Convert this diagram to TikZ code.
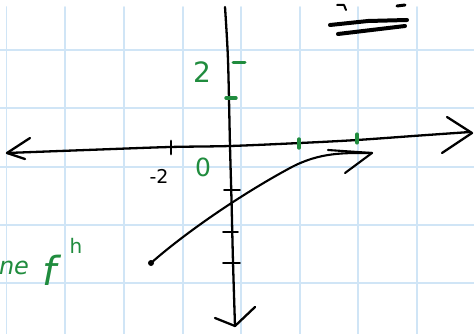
\documentclass[tikz,border=0pt]{standalone}
\usepackage{fontspec}
\setmainfont{DejaVu Sans}
\definecolor{gridblue}{RGB}{208,229,246}
\definecolor{pen}{RGB}{32,140,62}
\begin{document}
\begin{tikzpicture}[x=1pt,y=-1pt,line cap=round,line join=round,
  ax/.style={black,line width=2.3pt},
  gtick/.style={pen,line width=3.4pt},
  btick/.style={black,line width=1.7pt},
  glabel/.style={text=pen,inner sep=0pt},
  gridline/.style={gridblue,line width=1.6pt}]
\useasboundingbox (0,0) rectangle (474,334);
\fill[white] (0,0) rectangle (474,334);
% grid
\foreach \x in {6.5,65,124,183,241,300,358,417} \draw[gridline] (\x,7) -- (\x,334);
\foreach \y in {50,108,167,225,283} \draw[gridline] (0,\y) -- (474,\y);
% x axis
\draw[ax] plot[smooth] coordinates {(7,153) (100,149.5) (170,147) (230,146) (300,143) (357,140) (420,135.5) (470,132)};
\draw[ax] (30,138) -- (7,153) -- (25,159);
\draw[ax] (447,117) -- (472,133) -- (442,153);
% y axis
\draw[ax] plot[smooth] coordinates {(225,7) (228,60) (230,146) (231.5,200) (233,262) (235,326)};
\draw[ax] (215,318) -- (235,326) -- (255,307);
% ticks
\draw[pen,line width=3pt] (233,63) -- (245,63);
\draw[gtick] (226,98) -- (236,98);
\draw[gtick] (299,139) -- (299,148);
\draw[pen,line width=4.2pt] (357,134.5) -- (357,142.5);
\draw[black,line width=2.8pt] (171,141) -- (171,154);
\draw[btick] (224,190) -- (240,190);
\draw[btick] (223,232) -- (238,232);
\draw[btick] (223,263) -- (240,263);
% labels
\node[glabel,font=\fontsize{28}{28}\selectfont] (two) at (202,72) {2};
\node[glabel,font=\fontsize{25}{25}\selectfont] (zero) at (203,167) {0};
\node[inner sep=0pt,font=\fontsize{19}{19}\selectfont] (mtwo) at (159,176) {-2};
% curve
\draw[black,line width=2.1pt] (151,263) .. controls (185,233) and (240,195) .. (290,168)
  .. controls (320,151.8) and (345,153) .. (372,153);
\fill (151,263) circle (3pt);
\draw[black,line width=2.1pt] (328,150) -- (372,153) -- (345,173);
% top right marks
\draw[black,line width=4pt] (330,25) -- (368,21) -- (407,20);
\draw[black,line width=4pt] (338,34) -- (405,26);
\draw[black,line width=2pt] (337,5) -- (344,5) -- (346,10);
\draw[black,line width=3pt] (397,6) -- (405,5);
% bottom left text
\node[glabel,font=\fontsize{24}{24}\itshape] (ne) at (14,268) {ne};
\node[glabel,font=\fontsize{40}{40}\itshape] (f) at (50,270) {f};
\node[glabel,font=\fontsize{20}{20}\selectfont] (h) at (76,246) {h};
\end{tikzpicture}
\end{document}
